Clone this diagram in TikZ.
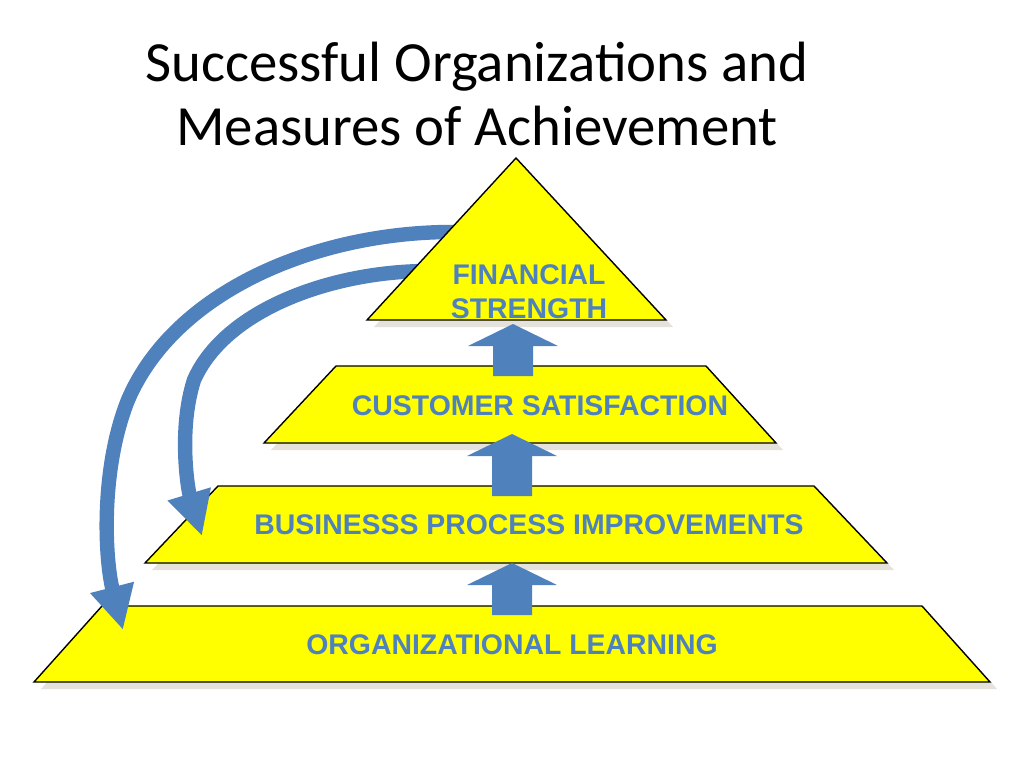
\documentclass[tikz,border=0pt]{standalone}
\usepackage{fontspec}
\setmainfont{Carlito}
\newfontfamily\labelfont{Liberation Sans}
\usetikzlibrary{arrows.meta}
\definecolor{pyryellow}{HTML}{FFFF00}
\definecolor{pyrblue}{HTML}{4F81BD}
\definecolor{pyrshadow}{HTML}{E4E2DA}
\tikzset{
	layer/.style={fill=pyryellow,draw=black,line width=0.35mm},
	shade/.style={fill=pyrshadow,shift={(7,7)}},
	lbl/.style={text=pyrblue,font=\labelfont\bfseries\fontsize{20.2}{24}\selectfont,align=center},
	heading/.style={font=\fontsize{40.4}{46}\selectfont,align=center},
	loop/.style={draw=pyrblue,line width=3.6mm,-{Triangle[width=10.5mm,length=11mm]}},
	pics/uparrow/.style={code={
		\fill[pyrblue] (0,0) -- (45,22) -- (20,22) -- (20,#1) -- (-20,#1) -- (-20,22) -- (-45,22) -- cycle;}}
}
\begin{document}
\begin{tikzpicture}[x=0.25mm,y=-0.25mm]
	\useasboundingbox (0,0) rectangle (1024,768);
	
	\node[heading] (title) at (477,94) {Successful Organizations and\\Measures of Achievement};
	
	\fill[shade] (102,606) -- (922,606) -- (990,682) -- (34,682) -- cycle;
	\fill[shade] (218,486) -- (814,486) -- (887,563) -- (145,563) -- cycle;
	\fill[shade] (336,366) -- (706,366) -- (776,443) -- (264,443) -- cycle;
	\fill[shade] (516,158) -- (666,320) -- (367,320) -- cycle;
	
	\draw[layer] (102,606) -- (922,606) -- (990,682) -- (34,682) -- cycle;
	\draw[layer] (218,486) -- (814,486) -- (887,563) -- (145,563) -- cycle;
	\draw[layer] (336,366) -- (706,366) -- (776,443) -- (264,443) -- cycle;
	
	\pic at (513,324) {uparrow=52};
	\pic at (512,434) {uparrow=62};
	\pic at (512,563) {uparrow=52};
	
	\coordinate (outerstart) at (460,232);
	\coordinate (outerend) at (123,630);
	\coordinate (innerstart) at (425,271);
	\coordinate (innerend) at (202,536);
	\draw[loop] (outerstart) .. controls (320,230) and (175,290) .. (128,400)
		.. controls (100,470) and (105,560) .. (outerend);
	\draw[loop] (innerstart) .. controls (330,272) and (225,310) .. (194,380)
		.. controls (178,430) and (188,490) .. (innerend);
	
	\draw[layer] (516,158) -- (666,320) -- (367,320) -- cycle;
	
	\node[lbl] (financial) at (529,292) {FINANCIAL\\STRENGTH};
	\node[lbl] (customer) at (540,406) {CUSTOMER SATISFACTION};
	\node[lbl] (process) at (529,525) {BUSINESSS PROCESS IMPROVEMENTS};
	\node[lbl] (learning) at (512,645) {ORGANIZATIONAL LEARNING};
\end{tikzpicture}
\end{document}
